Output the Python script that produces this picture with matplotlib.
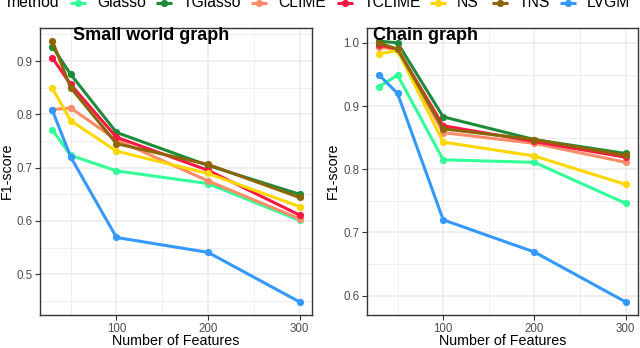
import matplotlib
matplotlib.use("Agg")
import matplotlib.pyplot as plt
from matplotlib.lines import Line2D
from matplotlib.ticker import MultipleLocator, FixedLocator

plt.rcParams['font.family'] = ['Liberation Sans', 'DejaVu Sans']

features = [30, 50, 100, 200, 300]
methods = ["Glasso", "TGlasso", "CLIME", "TCLIME", "NS", "TNS", "LVGM"]
colors = ["#33FF99", "#1E8B3A", "#FF8C69", "#FF1744", "#FFD700", "#8B6508", "#3399FF"]

small_world = {
    "Glasso":  [0.771, 0.723, 0.694, 0.670, 0.601],
    "TGlasso": [0.927, 0.875, 0.766, 0.704, 0.650],
    "CLIME":   [0.809, 0.812, 0.752, 0.675, 0.604],
    "TCLIME":  [0.906, 0.856, 0.757, 0.695, 0.611],
    "NS":      [0.849, 0.788, 0.731, 0.689, 0.627],
    "TNS":     [0.9375, 0.850, 0.745, 0.706, 0.644],
    "LVGM":    [0.8075, 0.720, 0.569, 0.541, 0.448],
}
chain = {
    "Glasso":  [0.931, 0.949, 0.815, 0.811, 0.746],
    "TGlasso": [1.003, 1.000, 0.883, 0.847, 0.825],
    "CLIME":   [0.993, 0.990, 0.858, 0.841, 0.811],
    "TCLIME":  [0.997, 0.990, 0.869, 0.844, 0.819],
    "NS":      [0.983, 0.988, 0.843, 0.821, 0.776],
    "TNS":     [1.000, 0.990, 0.864, 0.847, 0.822],
    "LVGM":    [0.949, 0.920, 0.720, 0.669, 0.590],
}
panels = [("Small world graph", small_world), ("Chain graph", chain)]

W, H = 640, 348
fig = plt.figure(figsize=(6.4, 3.48), dpi=100)

axes_px = [(40, 28, 312, 315), (367, 28, 638, 315)]
ylabel_x = [7, 333]
title_x = [73, 373]

LW = 2.2
MS = 5.2

for i, ((title, data), (x0, y0, x1, y1)) in enumerate(zip(panels, axes_px)):
    ax = fig.add_axes([x0 / W, 1 - y1 / H, (x1 - x0) / W, (y1 - y0) / H])
    allv = [v for m in methods for v in data[m]]
    lo, hi = min(allv), max(allv)
    pad = (hi - lo) * 0.05
    ax.set_ylim(lo - pad, hi + pad)
    xpad = (max(features) - min(features)) * 0.05
    ax.set_xlim(min(features) - xpad, max(features) + xpad)
    for m, c in zip(methods, colors):
        ax.plot(features, data[m], color=c, lw=LW, marker='o', ms=MS,
                markeredgewidth=0, solid_capstyle='butt', zorder=3)
    ax.xaxis.set_major_locator(FixedLocator([100, 200, 300]))
    ax.xaxis.set_minor_locator(FixedLocator([50, 150, 250]))
    ax.yaxis.set_major_locator(MultipleLocator(0.1))
    ax.yaxis.set_minor_locator(MultipleLocator(0.05))
    ax.grid(which='major', color='#EBEBEB', lw=1.1, zorder=0)
    ax.grid(which='minor', color='#EBEBEB', lw=0.6, zorder=0)
    ax.set_axisbelow(True)
    for s in ax.spines.values():
        s.set_color('#333333')
        s.set_linewidth(1.0)
    ax.tick_params(which='major', length=3.5, width=0.8, color='#333333',
                   labelsize=8.3, labelcolor='#4D4D4D', pad=2)
    ax.tick_params(which='minor', length=0)
    ax.yaxis.set_major_formatter(matplotlib.ticker.FormatStrFormatter('%.1f'))
    fig.text(title_x[i] / W, 1 - 35 / H, title, fontsize=13, fontweight='bold',
             ha='left', va='center', color='black')
    fig.text(ylabel_x[i] / W, 1 - 171 / H, "F1-score", rotation=90,
             fontsize=10.3, ha='center', va='center')
    fig.text(((x0 + x1) / 2) / W, 1 - 341 / H, "Number of Features",
             fontsize=10.3, ha='center', va='center')

# legend (top, partially cut as in reference)
ly = 1 - 3 / H
fig.text(7 / W, 1 - 7 / H, "method", fontsize=11.3, ha='left', va='baseline')
key_centers = [78, 164, 259, 345, 438, 500, 568]
for m, c, kx in zip(methods, colors, key_centers):
    fig.add_artist(Line2D([(kx - 8) / W, (kx + 8) / W], [ly, ly], color=c, lw=LW,
                          solid_capstyle='butt', transform=fig.transFigure))
    fig.add_artist(Line2D([kx / W], [ly], color=c, marker='o', ms=MS,
                          markeredgewidth=0, transform=fig.transFigure))
    fig.text((kx + 19) / W, 1 - 7 / H, m, fontsize=11.3, ha='left', va='baseline')

fig.savefig("out.png", dpi=100)
